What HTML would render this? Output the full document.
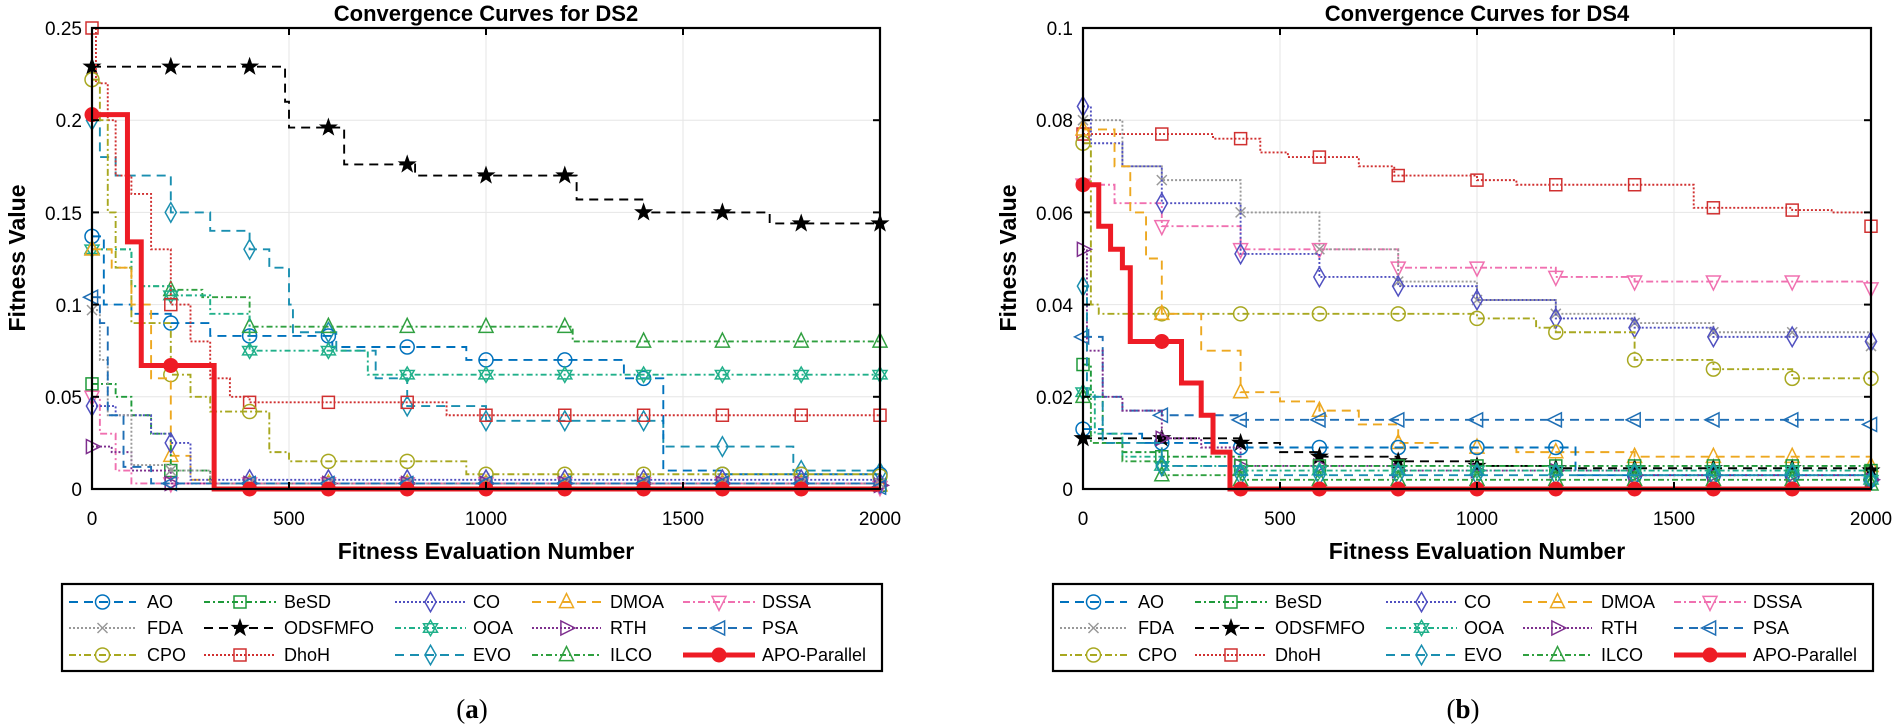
<!DOCTYPE html>
<html><head><meta charset="utf-8">
<style>
html,body{margin:0;padding:0;background:#fff;}
svg{display:block;font-family:"Liberation Sans",Arial,sans-serif;}
</style></head>
<body>
<svg id="s" width="1901" height="727" viewBox="0 0 1901 727" xmlns="http://www.w3.org/2000/svg">
<rect width="1901" height="727" fill="#fff"/>
<g id="g0"></g>
<g id="g1"></g>
<text x="486" y="21" font-size="22" font-weight="bold" text-anchor="middle">Convergence Curves for DS2</text>
<text x="1477" y="21" font-size="22" font-weight="bold" text-anchor="middle">Convergence Curves for DS4</text>
<text x="486" y="559" font-size="23" font-weight="bold" text-anchor="middle">Fitness Evaluation Number</text>
<text x="1477" y="559" font-size="23" font-weight="bold" text-anchor="middle">Fitness Evaluation Number</text>
<text transform="translate(25,258) rotate(-90)" font-size="23" font-weight="bold" text-anchor="middle">Fitness Value</text>
<text transform="translate(1016,258) rotate(-90)" font-size="23" font-weight="bold" text-anchor="middle">Fitness Value</text>
<g font-size="19" text-anchor="middle">
<text x="92" y="525">0</text><text x="289" y="525">500</text><text x="486" y="525">1000</text><text x="683" y="525">1500</text><text x="880" y="525">2000</text>
<text x="1083" y="525">0</text><text x="1280" y="525">500</text><text x="1477" y="525">1000</text><text x="1674" y="525">1500</text><text x="1871" y="525">2000</text>
</g>
<g font-size="19" text-anchor="end">
<text x="82" y="496">0</text><text x="82" y="404">0.05</text><text x="82" y="312">0.1</text><text x="82" y="220">0.15</text><text x="82" y="127">0.2</text><text x="82" y="35">0.25</text>
<text x="1073" y="496">0</text><text x="1073" y="404">0.02</text><text x="1073" y="312">0.04</text><text x="1073" y="220">0.06</text><text x="1073" y="127">0.08</text><text x="1073" y="35">0.1</text>
</g>
<text x="472" y="718" font-size="27" font-family="Liberation Serif,serif" text-anchor="middle">(<tspan font-weight="bold">a</tspan>)</text>
<text x="1463" y="718" font-size="27" font-family="Liberation Serif,serif" text-anchor="middle">(<tspan font-weight="bold">b</tspan>)</text>
<g id="leg0" font-size="18"></g>
<g id="leg1" font-size="18"></g>
</svg>
<script>
var NS="http://www.w3.org/2000/svg";
function el(p,t,a){var e=document.createElementNS(NS,t);for(var k in a)e.setAttribute(k,a[k]);p.appendChild(e);return e;}
var S={
AO:{c:"#0072BD",d:"9,6",m:"o"},BeSD:{c:"#1f9a3a",d:"6,3,2,3",m:"s"},CO:{c:"#5050c0",d:"2,2",m:"d"},
DMOA:{c:"#EDA820",d:"9,6",m:"t"},DSSA:{c:"#f070b0",d:"7,3,2,3",m:"v"},FDA:{c:"#999",d:"2,2",m:"x"},
ODSFMFO:{c:"#000",d:"9,6",m:"p"},OOA:{c:"#20b08a",d:"6,3,2,3",m:"h"},RTH:{c:"#7E2F8E",d:"2,2",m:">"},
PSA:{c:"#1f6fb5",d:"9,6",m:"<"},CPO:{c:"#a8a820",d:"7,3,2,3",m:"o"},DhoH:{c:"#d03030",d:"2,2",m:"s"},
EVO:{c:"#1a8fb0",d:"9,6",m:"d"},ILCO:{c:"#30a040",d:"6,3,2,3",m:"t"},"APO-Parallel":{c:"#ee1c25",d:"",m:"f",w:5}};
var D0={
ODSFMFO:[[0,.229],[480,.229],[490,.21],[500,.196],[640,.196],[640,.176],[800,.176],[820,.17],[1200,.17],[1230,.157],[1390,.157],[1400,.15],[1700,.15],[1720,.144],[2000,.144]],
EVO:[[0,.2],[20,.18],[60,.17],[200,.15],[300,.14],[400,.13],[450,.12],[500,.1],[510,.085],[600,.085],[620,.075],[720,.06],[800,.045],[900,.045],[1000,.037],[1400,.037],[1450,.023],[1700,.023],[1780,.01],[2000,.009]],
AO:[[0,.137],[30,.1],[100,.095],[200,.09],[300,.083],[600,.083],[610,.077],[800,.077],[950,.07],[1200,.07],[1350,.06],[1450,.01],[1600,.008],[2000,.008]],
ILCO:[[0,.13],[100,.11],[200,.108],[280,.104],[400,.088],[1200,.088],[1220,.08],[2000,.08]],
OOA:[[0,.13],[100,.11],[200,.105],[300,.095],[400,.075],[600,.075],[700,.062],[2000,.062]],
DhoH:[[0,.25],[10,.22],[40,.2],[60,.17],[100,.16],[150,.13],[200,.1],[250,.08],[300,.06],[350,.05],[400,.047],[800,.047],[900,.04],[2000,.04]],
CPO:[[0,.222],[20,.2],[40,.15],[60,.12],[100,.09],[200,.062],[250,.05],[300,.042],[400,.042],[450,.02],[500,.015],[900,.015],[950,.008],[2000,.007]],
DMOA:[[0,.13],[50,.12],[100,.1],[150,.06],[200,.018],[250,.005],[300,.003],[2000,.002]],
BeSD:[[0,.057],[60,.05],[100,.04],[150,.03],[200,.01],[300,.003],[2000,.002]],
DSSA:[[0,.05],[20,.03],[60,.01],[100,.003],[2000,.001]],
CO:[[0,.045],[60,.04],[150,.03],[200,.025],[250,.005],[2000,.003]],
RTH:[[0,.023],[50,.02],[100,.01],[200,.003],[2000,.002]],
FDA:[[0,.097],[20,.07],[40,.04],[100,.013],[200,.01],[300,.003],[2000,.003]],
PSA:[[0,.104],[20,.09],[40,.04],[80,.012],[150,.003],[2000,.001]],
"APO-Parallel":[[0,.203],[90,.203],[90,.134],[125,.134],[125,.067],[310,.067],[310,0],[2000,0]]};
var D1={
DhoH:[[0,.077],[330,.076],[450,.073],[520,.072],[700,.07],[790,.068],[1000,.067],[1100,.066],[1500,.066],[1550,.061],[1800,.0605],[1900,.06],[2000,.057]],
DSSA:[[0,.066],[80,.062],[200,.057],[400,.052],[800,.048],[1000,.048],[1200,.046],[1400,.045],[2000,.0435]],
FDA:[[0,.08],[100,.07],[200,.067],[400,.06],[600,.052],[800,.045],[1000,.041],[1200,.038],[1400,.036],[1600,.034],[2000,.031]],
CO:[[0,.083],[20,.075],[100,.07],[200,.062],[400,.051],[600,.046],[800,.044],[1000,.041],[1200,.037],[1400,.035],[1600,.033],[2000,.032]],
CPO:[[0,.075],[20,.04],[40,.038],[1000,.037],[1150,.035],[1200,.034],[1400,.028],[1600,.026],[1800,.024],[2000,.024]],
DMOA:[[0,.078],[80,.07],[120,.06],[160,.05],[200,.038],[300,.03],[400,.021],[500,.019],[600,.017],[700,.014],[800,.01],[900,.009],[1100,.008],[1400,.007],[2000,.005]],
PSA:[[0,.033],[50,.02],[100,.017],[200,.016],[400,.015],[600,.015],[2000,.014]],
AO:[[0,.013],[50,.012],[150,.01],[400,.009],[1200,.009],[1250,.003],[2000,.002]],
ODSFMFO:[[0,.011],[200,.011],[400,.01],[500,.008],[600,.007],[800,.006],[1000,.005],[1200,.0045],[2000,.004]],
RTH:[[0,.052],[10,.03],[50,.02],[100,.017],[200,.011],[300,.009],[400,.005],[800,.004],[1400,.003],[2000,.002]],
BeSD:[[0,.027],[20,.02],[50,.01],[100,.008],[200,.007],[400,.005],[2000,.004]],
OOA:[[0,.021],[30,.012],[100,.007],[200,.005],[400,.004],[2000,.002]],
ILCO:[[0,.02],[20,.01],[100,.006],[200,.003],[400,.002],[2000,.001]],
EVO:[[0,.044],[10,.02],[50,.01],[200,.005],[400,.003],[2000,.002]],
"APO-Parallel":[[0,.066],[40,.066],[40,.057],[70,.055],[70,.052],[100,.052],[100,.048],[120,.048],[120,.032],[240,.032],[250,.031],[250,.023],[300,.023],[300,.016],[330,.016],[330,.008],[373,.008],[373,0],[2000,0]]};
function marker(g,m,x,y,c){var r=7,a={fill:"none",stroke:c,"stroke-width":1.5};
 if(m=="o"){a.cx=x;a.cy=y;a.r=r;el(g,"circle",a);}
 else if(m=="f"){el(g,"circle",{cx:x,cy:y,r:7.5,fill:c});}
 else if(m=="s"){a.x=x-r+1;a.y=y-r+1;a.width=2*r-2;a.height=2*r-2;el(g,"rect",a);}
 else if(m=="d"){a.points=[x,y-r*1.4,x+r*.8,y,x,y+r*1.4,x-r*.8,y].join(" ");el(g,"polygon",a);}
 else if(m=="t"){a.points=[x,y-r*1.2,x+r,y+r*.8,x-r,y+r*.8].join(" ");el(g,"polygon",a);}
 else if(m=="v"){a.points=[x,y+r*1.2,x+r,y-r*.8,x-r,y-r*.8].join(" ");el(g,"polygon",a);}
 else if(m==">"){a.points=[x+r*1.2,y,x-r*.8,y-r,x-r*.8,y+r].join(" ");el(g,"polygon",a);}
 else if(m=="<"){a.points=[x-r*1.2,y,x+r*.8,y-r,x+r*.8,y+r].join(" ");el(g,"polygon",a);}
 else if(m=="x"){a.d="M"+(x-5)+","+(y-5)+"L"+(x+5)+","+(y+5)+"M"+(x-5)+","+(y+5)+"L"+(x+5)+","+(y-5);el(g,"path",a);}
 else if(m=="h"){a.points=[x,y-r*1.1,x+r,y+r*.6,x-r,y+r*.6].join(" ");el(g,"polygon",a);var b={fill:"none",stroke:c,"stroke-width":1.5,points:[x,y+r*1.1,x+r,y-r*.6,x-r,y-r*.6].join(" ")};el(g,"polygon",b);}
 else if(m=="p"){var p=[];for(var i=0;i<10;i++){var rr=i%2?3.4:8.5,an=-Math.PI/2+i*Math.PI/5;p.push(x+rr*Math.cos(an),y+rr*Math.sin(an));}a.points=p.join(" ");a.fill=c;a["stroke-width"]=1;el(g,"polygon",a);}
}
function valAt(d,x){var v=d[0][1];for(var i=0;i<d.length;i++){if(d[i][0]<=x)v=d[i][1];}return v;}
function plot(gid,L,ymax,D){
 var g=document.getElementById(gid),T=28,B=489,W=788;
 var X=function(x){return L+x*W/2000;},Y=function(v){return B-v/ymax*(B-T);};
 for(var i=1;i<4;i++)el(g,"line",{x1:X(i*500),x2:X(i*500),y1:T,y2:B,stroke:"#e6e6e6","stroke-width":1});
 for(var j=1;j<5;j++)el(g,"line",{x1:L,x2:L+W,y1:Y(j*ymax/5),y2:Y(j*ymax/5),stroke:"#e6e6e6","stroke-width":1});
 Object.keys(D).forEach(function(n){var s=S[n],d=D[n],p="M"+X(d[0][0])+","+Y(d[0][1]);
  for(var i=1;i<d.length;i++){p+="H"+X(d[i][0])+"V"+Y(d[i][1]);}
  var a={d:p,fill:"none",stroke:s.c,"stroke-width":s.w||1.9};if(s.d)a["stroke-dasharray"]=s.d;el(g,"path",a);
  for(var x=0;x<=2000;x+=200){if(n=="APO-Parallel"&&x==2000)continue;marker(g,s.m,X(x),Y(valAt(d,x)),s.c);}
 });
 el(g,"rect",{x:L,y:T,width:W,height:B-T,fill:"none",stroke:"#000","stroke-width":2.2});
 for(var i=1;i<4;i++){el(g,"line",{x1:X(i*500),x2:X(i*500),y1:T,y2:T+7,stroke:"#000","stroke-width":2});el(g,"line",{x1:X(i*500),x2:X(i*500),y1:B,y2:B-7,stroke:"#000","stroke-width":2});}
 for(var j=1;j<5;j++){el(g,"line",{x1:L,x2:L+7,y1:Y(j*ymax/5),y2:Y(j*ymax/5),stroke:"#000","stroke-width":2});el(g,"line",{x1:L+W,x2:L+W-7,y1:Y(j*ymax/5),y2:Y(j*ymax/5),stroke:"#000","stroke-width":2});}
}
plot("g0",92,0.25,D0);plot("g1",1083,0.1,D1);
function legend(gid,off){var g=document.getElementById(gid);
 el(g,"rect",{x:62+off,y:584,width:820,height:87,fill:"#fff",stroke:"#000","stroke-width":2.2});
 var cols=[[69,136,147],[204,276,284],[395,466,473],[532,601,610],[683,755,762]];
 var rows=[["AO","BeSD","CO","DMOA","DSSA"],["FDA","ODSFMFO","OOA","RTH","PSA"],["CPO","DhoH","EVO","ILCO","APO-Parallel"]];
 var ys=[602,628,655];
 rows.forEach(function(r,ri){r.forEach(function(n,ci){var s=S[n],c=cols[ci],y=ys[ri];
  var a={x1:c[0]+off,x2:c[1]+off,y1:y,y2:y,stroke:s.c,"stroke-width":s.w||1.9};if(s.d)a["stroke-dasharray"]=s.d;el(g,"line",a);
  marker(g,s.m,(c[0]+c[1])/2+off,y,s.c);
  var t=el(g,"text",{x:c[2]+off,y:y+6});t.textContent=n;});});
}
legend("leg0",0);legend("leg1",991);
</script>
</body></html>
